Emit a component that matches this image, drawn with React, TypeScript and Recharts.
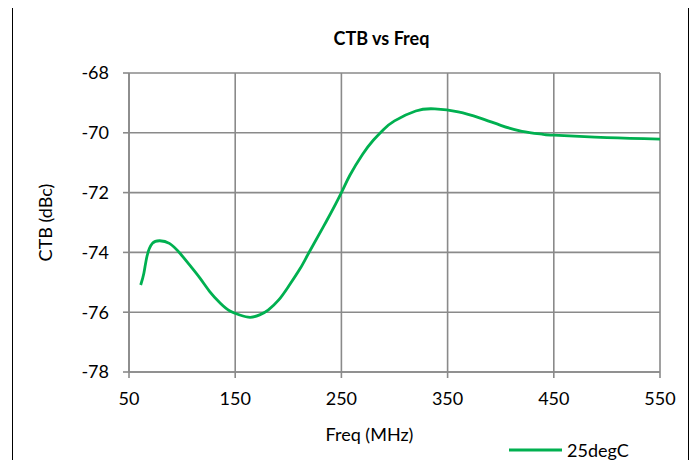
import { LineChart, Line, XAxis, YAxis, CartesianGrid, Legend } from 'recharts'

const freqMHz = [61, 64, 67, 72, 79, 88, 98, 107, 117, 126, 136, 145, 154, 164, 173, 181, 191, 200, 211, 220, 236, 250, 258, 270, 280, 290, 300, 320, 338, 360, 380, 400, 420, 440, 450, 500, 550]
const ctb25 = [-75.09, -74.7, -74.12, -73.7, -73.61, -73.7, -74.03, -74.42, -74.87, -75.31, -75.7, -75.96, -76.09, -76.17, -76.09, -75.93, -75.59, -75.15, -74.55, -73.97, -72.95, -72.0, -71.42, -70.72, -70.25, -69.88, -69.6, -69.27, -69.2, -69.3, -69.5, -69.75, -69.95, -70.05, -70.08, -70.16, -70.21]
const xTicks = [50, 150, 250, 350, 450, 550]
const yTicks = [-78, -76, -74, -72, -70, -68]

const seriesName = '25degC'
const green = '#00B050'
const gridGray = '#8a8a8a'
const font = 'Lato, "Open Sans", sans-serif'

const data = freqMHz.map((f, i) => ({ freq: f, ctb: ctb25[i] }))

function LegendBox() {
  return (
    <div style={{ display: 'flex', alignItems: 'center', fontFamily: font, fontSize: 18 }}>
      <svg width={55} height={6}>
        <line x1={0} y1={3} x2={53} y2={3} stroke={green} strokeWidth={3} />
      </svg>
      <span style={{ marginLeft: 3 }}>{seriesName}</span>
    </div>
  )
}

export default function App() {
  return (
    <div style={{ position: 'relative', width: 697, height: 468, margin: -8, fontFamily: font, background: '#fff' }}>
      <div
        style={{
          position: 'absolute',
          left: 12,
          top: 4,
          width: 677,
          height: 462,
          border: '1.5px solid #000',
          boxSizing: 'border-box',
        }}
      />
      <div
        style={{
          position: 'absolute',
          left: 0,
          width: 763,
          top: 27,
          textAlign: 'center',
          fontWeight: 'bold',
          fontSize: 18,
          color: '#000',
        }}
      >
        CTB vs Freq
      </div>
      <LineChart width={697} height={468} data={data} margin={{ top: 73, right: 37, bottom: 56, left: 0 }}>
        <CartesianGrid stroke={gridGray} strokeWidth={1.6} />
        <XAxis
          dataKey="freq"
          type="number"
          domain={[50, 550]}
          ticks={xTicks}
          height={40}
          stroke={gridGray}
          strokeWidth={1.6}
          tickSize={6}
          tickMargin={14}
          tick={{ fill: '#000', fontSize: 18, fontFamily: font }}
          label={{ value: 'Freq (MHz)', position: 'insideBottom', offset: -29, dx: -25, fill: '#000', fontSize: 18, fontFamily: font }}
        />
        <YAxis
          type="number"
          domain={[-78, -68]}
          ticks={yTicks}
          width={129}
          stroke={gridGray}
          strokeWidth={1.6}
          tickSize={6}
          tickMargin={14}
          tick={{ fill: '#000', fontSize: 18, fontFamily: font }}
          label={{ value: 'CTB (dBc)', angle: -90, position: 'insideLeft', offset: 46, fill: '#000', fontSize: 18, fontFamily: font, style: { textAnchor: 'middle' } }}
        />
        <Legend
          layout="horizontal"
          verticalAlign="middle"
          content={() => <LegendBox />}
          wrapperStyle={{ left: 509, top: 439, width: 'auto' }}
        />
        <Line
          type="natural"
          dataKey="ctb"
          name={seriesName}
          stroke={green}
          strokeWidth={2.8}
          dot={false}
          isAnimationActive={false}
        />
      </LineChart>
    </div>
  )
}
